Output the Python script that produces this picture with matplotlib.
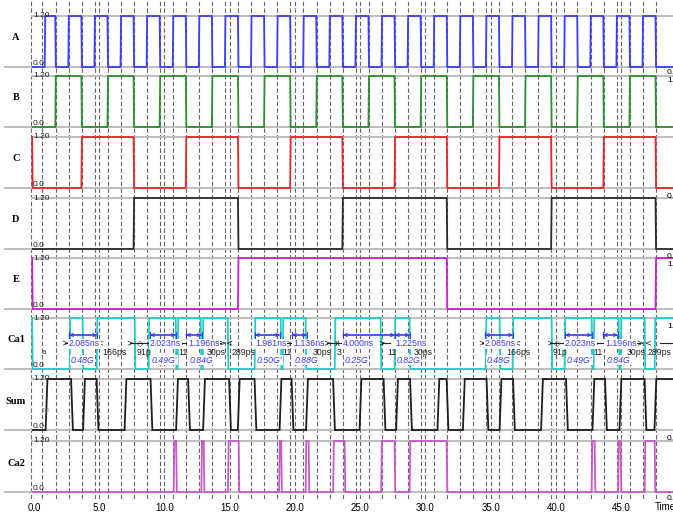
import matplotlib
matplotlib.use("Agg")
import matplotlib.pyplot as plt
from matplotlib.lines import Line2D

W, H = 673, 513          # output size in px (dpi 100)
PX0, PX1 = 31, 673       # left / right edge of the waveform area in px
T_LEFT, T_RIGHT = -0.23, 48.97

signal_names = ["A", "B", "C", "D", "E", "Ca1", "Sum", "Ca2"]
signal_colors = ["#3d3dff", "#2e902e", "#e02a2a", "#2b2b2b", "#cc22cc", "#22cccc", "#1e1e1e", "#c85ac8"]
start_levels = [0, 0, 1, 0, 1, 1, 0, 0]
rise_times = [0.04, 0.04, 0.04, 0.04, 0.04, 0.05, 0.14, 0.05]

# toggle times in ns
a_toggles = [0.84, 1.65, 2.65, 3.65, 4.65, 5.65, 6.65, 7.65, 8.65, 9.65, 10.65, 11.65,
             12.65, 13.65, 14.65, 15.65, 16.65, 17.65, 18.65, 19.65, 20.65, 21.65, 22.65,
             23.65, 24.65, 25.65, 26.65, 27.65, 28.65, 29.65, 30.65, 31.65, 32.65, 33.65,
             34.65, 35.65, 36.65, 37.65, 38.65, 39.65, 40.65, 41.65, 42.65, 43.65, 44.65,
             45.65, 46.65, 47.65]
b_toggles = [1.65, 3.65, 5.65, 7.65, 9.65, 11.65, 13.65, 15.65, 17.65, 19.65, 21.65, 23.65,
             25.65, 27.65, 29.65, 31.65, 33.65, 35.65, 37.65, 39.65, 41.65, 43.65, 45.65, 47.65]
c_toggles = [-0.12, 3.65, 7.65, 11.65, 15.65, 19.65, 23.65, 27.65, 31.65, 35.65, 39.65,
             43.65, 47.65]
d_toggles = [7.65, 15.65, 23.65, 31.65, 39.65, 47.65]
e_toggles = [-0.12, 15.65, 31.65, 47.65]
ca1_toggles = [-0.12, 2.76, 3.75, 4.83, 7.74, 8.81, 10.88, 11.03, 12.80, 12.95, 14.87, 16.93,
               18.93, 19.08, 20.84, 23.07, 26.59, 27.66, 28.81, 34.64, 35.71, 36.71, 39.69,
               40.69, 42.76, 42.91, 44.83, 44.98, 46.82, 47.59]
sum_toggles = [0.96, 2.91, 3.83, 4.87, 7.01, 9.00, 10.96, 11.88, 13.03, 15.02, 15.69, 16.97,
               18.89, 19.81, 20.92, 22.99, 25.02, 26.86, 27.82, 28.89, 30.99, 31.69, 32.94,
               34.75, 35.75, 36.78, 38.93, 40.84, 42.87, 43.83, 44.94, 46.86, 47.62]
ca2_toggles = [10.73, 10.92, 12.85, 13.03, 14.89, 15.71, 18.81, 18.97, 20.84, 21.07, 22.95,
               23.83, 26.63, 27.66, 28.81, 31.65, 42.76, 42.99, 44.79, 44.98, 46.82, 47.59]
all_toggles = [a_toggles, b_toggles, c_toggles, d_toggles, e_toggles,
               ca1_toggles, sum_toggles, ca2_toggles]

# dashed time grid: clock edges plus the 5 ns ticks
grid_t = [0.65] + a_toggles[1:]
tick_t = [0, 5, 10, 15, 20, 25, 30, 35, 40, 45]
tick_labels = ["0.0", "5.0", "10.0", "15.0", "20.0", "25.0", "30.0", "35.0", "40.0", "45.0"]

# measurement annotations on the Ca1 trace
meas_spans = [(2.68, 4.83), (8.89, 10.88), (11.65, 12.87), (16.93, 18.85), (19.77, 20.92),
              (23.68, 27.66), (27.66, 28.81), (34.56, 36.71), (40.69, 42.76), (43.6, 44.75)]
meas_ns = ["2.085ns", "2.023ns", "1.196ns", "1.981ns", "1.136ns", "4.000ns", "1.225ns",
           "2.085ns", "2.023ns", "1.196ns"]
meas_ns_t = [2.68, 8.89, 11.8, 16.93, 19.85, 23.68, 27.66, 34.56, 40.69, 43.75]
meas_freq = ["0.48G", "0.49G'", "0.84G", "0.50G'", "0.88G", "0.25G", "0.82G",
             "0.48G", "0.49G'", "0.84G"]
gap_labels = ["166ps", "91p", "11", "30ps", "289ps", "11", "30ps", "3", "11", "30ps",
              "166ps", "91p", "11", "30ps", "289ps"]
gap_t = [5.21, 7.89, 11.03, 13.26, 15.15, 19.0, 21.38, 23.2, 27.05, 29.12,
         36.17, 39.77, 42.84, 45.44, 47.05]
marker_chars = [">", ">", "<", ">", "◇", "◇", ">", "<", "◇", ">", "x", ">",
                ">", ">", "<", ">", "◇", "◇", ">", "<"]
marker_t = [2.38, 4.52, 5.06, 7.36, 8.12, 11.19, 14.35, 14.95, 19.46, 22.45, 23.22, 26.67,
            34.33, 36.63, 37.0, 39.54, 40.08, 42.99, 46.44, 47.0]
connector_spans = [(2.38, 2.68), (7.36, 8.89), (11.19, 11.65), (14.0, 14.35), (19.0, 19.77),
                   (22.45, 23.68), (26.67, 27.3), (34.33, 34.56), (39.54, 40.69),
                   (42.99, 43.6), (46.1, 46.44), (47.95, 48.97)]

# px rows of the 0.0 level of each panel (1.20 sits 51 px higher)
zero_rows = [67, 127, 188, 249, 309, 369, 430, 492]
K = 1.2 / 51.0

SANS = "Liberation Sans"
SERIF = "Liberation Serif"
BLUE = "#3a3aff"


def waveform(toggles, level, tr):
    ts, ys = [T_LEFT], [level]
    for t in toggles:
        ts += [t - tr / 2, t + tr / 2]
        ys += [level, 1 - level]
        level = 1 - level
    ts.append(T_RIGHT)
    ys.append(level)
    return ts, [1.2 * y for y in ys]


fig = plt.figure(figsize=(W / 100, H / 100), dpi=100)
fig.patch.set_facecolor("white")

# background axes holding the dashed vertical grid
bg = fig.add_axes([PX0 / W, (H - 499) / H, (PX1 - PX0) / W, 499 / H])
bg.set_xlim(T_LEFT, T_RIGHT)
bg.set_ylim(0, 1)
bg.axis("off")
for t in grid_t + tick_t[1:] + [T_LEFT + 0.02]:
    bg.axvline(t, color="#666666", lw=0.8, ls=(0, (4, 2)))

axes = []
for i, name in enumerate(signal_names):
    y0 = zero_rows[i]
    ax = fig.add_axes([PX0 / W, (H - y0 - 1) / H, (PX1 - PX0) / W, 61 / H])
    ax.set_facecolor("none")
    ax.set_xlim(T_LEFT, T_RIGHT)
    ax.set_ylim(-K, 60 * K)
    for s in ax.spines.values():
        s.set_visible(False)
    ax.set_xticks([])
    ax.set_yticks([])
    ax.axhline(1.2, color="#bdbdbd", lw=1.4, zorder=1)
    ax.axhline(0.0, color="#bdbdbd", lw=1.4, zorder=1)
    ts, ys = waveform(all_toggles[i], start_levels[i], rise_times[i])
    ax.plot(ts, ys, color=signal_colors[i], lw=1.3, zorder=3, solid_joinstyle="miter")
    yt = ax.get_yaxis_transform()
    ax.text(0.003, 1.2, "1.20", transform=yt, fontsize=6, family=SANS,
            va="center", ha="left", color="#222222", zorder=4)
    ax.text(0.003, 0.0, "0.0", transform=yt, fontsize=6, family=SANS,
            va="bottom", ha="left", color="#222222", zorder=4)
    # separator continues into the name column
    fig.add_artist(Line2D([5 / W, PX0 / W], [(H - y0) / H] * 2, color="#bdbdbd", lw=1.4))
    fig.text(16 / W, 1 - (y0 - 29) / H, name, fontsize=7.5, family=SERIF,
             weight="bold", ha="center", va="center")
    axes.append(ax)

# bottom time axis
ax_last = axes[-1]
ax_last.set_xticks(tick_t)
ax_last.set_xticklabels(tick_labels, fontsize=7, family=SANS)
ax_last.tick_params(axis="x", length=0, pad=7)
fig.text(655 / W, 1 - 507 / H, "Time(ns)", fontsize=7, family=SANS, va="center")

# truncated labels of the right-hand scale
right_labels = ["0.0", "1.20", "0.0", "0.0", "1.20", "1.20", "0.0", "0.0"]
right_rows = [72, 80, 197, 257, 265, 327, 438, 498]
for lab, row in zip(right_labels, right_rows):
    fig.text(667 / W, 1 - row / H, lab, fontsize=6, family=SANS, va="center")

# Ca1 measurement overlays
ax = axes[5]
for (t0, t1) in meas_spans:
    ax.annotate("", xy=(t1, 0.80), xytext=(t0, 0.80),
                arrowprops=dict(arrowstyle="<->", color=BLUE, lw=0.9,
                                shrinkA=0, shrinkB=0, mutation_scale=5), zorder=5)
    ax.annotate("", xy=(t1, 0.80), xytext=(t0, 0.80),
                arrowprops=dict(arrowstyle="|-|,widthA=0.2,widthB=0.2", color=BLUE, lw=0.8,
                                shrinkA=0, shrinkB=0), zorder=5)
for (t0, t1) in connector_spans:
    ax.plot([t0, t1], [0.61, 0.61], color="#222222", lw=0.8, zorder=4)
for ch, t in zip(marker_chars, marker_t):
    ax.text(t, 0.61, ch, fontsize=6, family=["DejaVu Sans"], ha="center", va="center",
            color="#222222", zorder=5)
for lab, t in zip(gap_labels, gap_t):
    ax.text(t, 0.38, lab, fontsize=6.3, family=SANS, ha="left", va="center",
            color="#222222", zorder=5)
for lab, t in zip(meas_ns, meas_ns_t):
    ax.text(t, 0.59, lab, fontsize=6.3, family=SANS, ha="left", va="center", color=BLUE,
            zorder=6, bbox=dict(facecolor="white", edgecolor="none", pad=0.4))
for lab, t in zip(meas_freq, meas_ns_t):
    ax.text(t + 0.15, 0.21, lab, fontsize=6.3, family=SANS, style="italic", ha="left",
            va="center", color=BLUE, zorder=6,
            bbox=dict(facecolor="white", edgecolor="none", pad=0.4))

# stray marks at the left of the lower rows
fig.text(42 / W, 1 - 352 / H, "a", fontsize=5.5, family=SANS, color="#333333", va="center")
fig.text(43 / W, 1 - 411 / H, "m", fontsize=5, family=SANS, color="#777777", va="center")
fig.text(41 / W, 1 - 473 / H, "r", fontsize=5, family=SANS, color="#999999", va="center")

fig.savefig("out.png", dpi=100)
